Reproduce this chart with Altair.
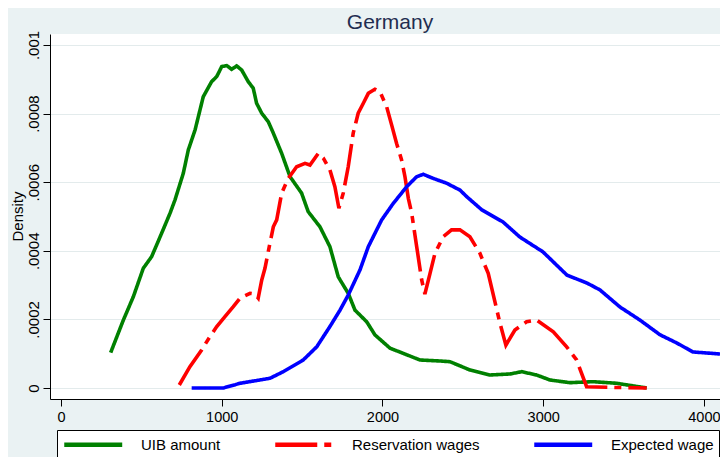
import altair as alt
import pandas as pd

# ---- data (kernel density estimates) ----
series_names = ["UIB amount", "Reservation wages", "Expected wage"]

uib_x = [309, 388, 450, 512, 564, 626, 678, 709, 761, 792, 834, 885, 937, 969, 1000,
         1031, 1062, 1093, 1124, 1165, 1196, 1217, 1249, 1290, 1321, 1373, 1425, 1497,
         1538, 1611, 1673, 1725, 1787, 1829, 1902, 1953, 2047, 2129, 2233, 2358, 2420,
         2544, 2669, 2793, 2866, 2959, 3042, 3166, 3310, 3457, 3644]
uib_y = [0.000103, 0.000198, 0.000266, 0.000349, 0.000383, 0.000451, 0.000509, 0.000548,
         0.000626, 0.000694, 0.000752, 0.000849, 0.000893, 0.000908, 0.000937, 0.000940,
         0.000929, 0.000939, 0.000927, 0.000893, 0.000874, 0.000830, 0.000801, 0.000776,
         0.000743, 0.000684, 0.000616, 0.000568, 0.000514, 0.000470, 0.000412, 0.000324,
         0.000276, 0.000227, 0.000193, 0.000155, 0.000116, 0.000101, 0.0000816, 0.0000787,
         0.0000767, 0.0000525, 0.0000379, 0.0000408, 0.0000475, 0.0000379, 0.0000233,
         0.0000155, 0.0000184, 0.0000137, 0.0]

res_x = [736, 802, 875, 927, 969, 1020, 1072, 1114, 1176, 1207, 1227, 1249, 1269, 1300,
         1321, 1342, 1373, 1414, 1466, 1518, 1549, 1601, 1632, 1673, 1704, 1729, 1756,
         1787, 1818, 1849, 1881, 1912, 1953, 1984, 2026, 2057, 2088, 2119, 2140, 2161,
         2182, 2213, 2244, 2264, 2296, 2327, 2378, 2430, 2482, 2544, 2606, 2658, 2731,
         2768, 2824, 2897, 2959, 3063, 3146, 3208, 3270, 3395, 3644]
res_y = [0.0000087, 0.0000621, 0.000111, 0.000150, 0.000179, 0.000208, 0.000237, 0.000262,
         0.000276, 0.000274, 0.000262, 0.000315, 0.000349, 0.000422, 0.000470, 0.000490,
         0.000568, 0.000611, 0.000645, 0.000655, 0.000650, 0.000684, 0.000670, 0.000636,
         0.000587, 0.000524, 0.000568, 0.000645, 0.000743, 0.000801, 0.000830, 0.000859,
         0.000871, 0.000864, 0.000820, 0.000767, 0.000713, 0.000665, 0.000616, 0.000553,
         0.000509, 0.000412, 0.000315, 0.000274, 0.000334, 0.000393, 0.000441, 0.000461,
         0.000461, 0.000441, 0.000393, 0.000334, 0.000189, 0.000125, 0.000169, 0.000193,
         0.000198, 0.000164, 0.000120, 0.0000816, 0.0000038, 0.000002, 0.0]

exp_x = [813, 1010, 1114, 1300, 1383, 1507, 1591, 1673, 1736, 1787, 1860, 1912, 1995,
         2067, 2151, 2213, 2254, 2316, 2399, 2482, 2526, 2619, 2750, 2855, 2998, 3148,
         3272, 3353, 3478, 3602, 3727, 3832, 3932, 4019, 4100]
exp_y = [0.0, 0.0, 0.0000137, 0.0000283, 0.0000475, 0.0000816, 0.000120, 0.000179,
         0.000227, 0.000271, 0.000344, 0.000412, 0.000490, 0.000538, 0.000587, 0.000616,
         0.000623, 0.000611, 0.000597, 0.000577, 0.000557, 0.000519, 0.000484, 0.000440,
         0.000397, 0.000329, 0.000306, 0.000286, 0.000236, 0.000198, 0.000155, 0.000131,
         0.000105, 0.000102, 0.0000991]

x_ticks = [0, 1000, 2000, 3000, 4000]
y_ticks = [0, 0.0002, 0.0004, 0.0006, 0.0008, 0.001]

colors = ["#008000", "#FF0000", "#0000FF"]
dashes = [[1, 0], [42, 7, 7, 7], [1, 0]]

rows = []
for name, xs, ys in [(series_names[0], uib_x, uib_y),
                     (series_names[1], res_x, res_y),
                     (series_names[2], exp_x, exp_y)]:
    for i, (xv, yv) in enumerate(zip(xs, ys)):
        rows.append({"series": name, "x": xv, "y": yv, "i": i})
df = pd.DataFrame(rows)

FONT = "Liberation Sans"

# legend symbol: a line starting at the symbol box's left edge, 8 units long
legend = alt.Legend(
    title=None, orient="none", legendX=7, legendY=396, direction="horizontal",
    columns=3, columnPadding=45, symbolType="M-1,0H7", symbolSize=210,
    symbolStrokeWidth=4.5, labelFontSize=15, labelFont=FONT, labelColor="#000000",
    labelOffset=60, padding=5, strokeColor="#000000", fillColor="#FFFFFF",
)

chart = alt.Chart(df).mark_line(strokeWidth=3.6, clip=True).encode(
    x=alt.X("x:Q",
            scale=alt.Scale(domain=[-68.4, 4100], nice=False, zero=False),
            axis=alt.Axis(values=x_ticks, format="d", title=None, grid=False,
                          tickSize=7, labelPadding=4, labelFlush=False,
                          labelFontSize=14.5)),
    y=alt.Y("y:Q",
            scale=alt.Scale(domain=[-0.0000321, 0.001032], nice=False, zero=False),
            axis=alt.Axis(values=y_ticks, grid=True, tickSize=7,
                          labelExpr="datum.value == 0 ? '0' : substring(format(datum.value, '.4~f'), 1)",
                          labelAngle=270, labelAlign="center", labelBaseline="middle",
                          labelPadding=10, labelFlush=False,
                          title="Density", titleAngle=270, titleX=-33, titleY=182,
                          titleAlign="center", titleBaseline="middle")),
    color=alt.Color("series:N", scale=alt.Scale(domain=series_names, range=colors),
                    legend=legend),
    strokeDash=alt.StrokeDash("series:N", scale=alt.Scale(domain=series_names, range=dashes),
                              legend=legend),
    order="i:Q",
).properties(
    width=670, height=365,
    title=alt.TitleParams("Germany", fontSize=21, font=FONT, fontWeight="normal",
                          color="#1F2D50", anchor="middle", offset=-3, dx=5),
    autosize=alt.AutoSizeParams(type="none"),
    padding={"left": 42, "top": 26, "right": 0, "bottom": 58},
    background="#EAF2F3",
).configure_view(
    stroke=None, fill="#FFFFFF"
).configure_axis(
    domainColor="#000000", domainWidth=1, tickColor="#000000", tickWidth=1,
    labelFont=FONT, labelFontSize=15, labelColor="#000000",
    titleFont=FONT, titleFontSize=15, titleFontWeight="normal", titleColor="#000000",
    gridColor="#E3EBEC", gridWidth=1,
)

chart.save("out.html", embed_options={"renderer": "svg", "actions": False})
